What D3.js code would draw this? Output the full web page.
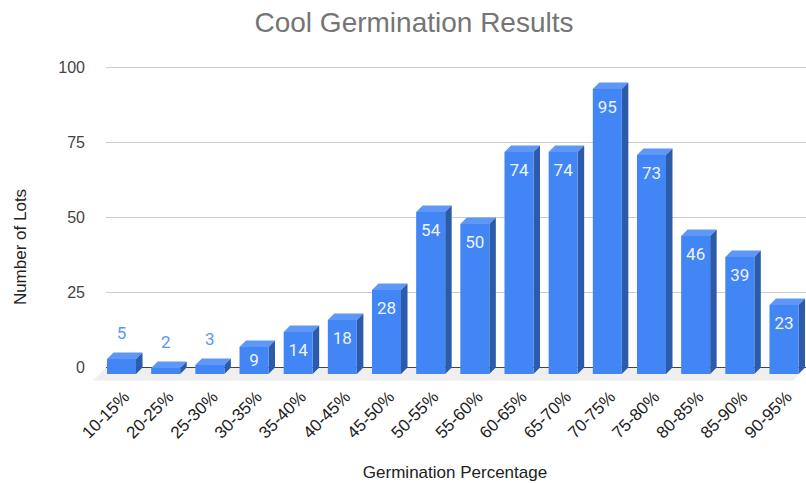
<!DOCTYPE html>
<html><head><meta charset="utf-8">
<script src="https://cdn.jsdelivr.net/npm/d3@7"></script>
<style>body{margin:0;background:#fff}svg{display:block}</style>
</head><body>
<script>
const categories = ["10-15%","20-25%","25-30%","30-35%","35-40%","40-45%","45-50%","50-55%","55-60%","60-65%","65-70%","70-75%","75-80%","80-85%","85-90%","90-95%"];
const values = [5,2,3,9,14,18,28,54,50,74,74,95,73,46,39,23];
const yTicks = [0,25,50,75,100];
const title = "Cool Germination Results";
const xTitle = "Germination Percentage";
const yTitle = "Number of Lots";

const W = 806, H = 483;
const dx = 6.5, dy = -6.5;
const svg = d3.select("body").append("svg").attr("width", W).attr("height", H);
const x = d3.scaleBand().domain(categories).range([99.5, 806]).paddingInner(0.343).paddingOuter(0.17);
const y = d3.scaleLinear().domain([0, 100]).range([374, 74]);
const font = "'Liberation Sans', Arial, sans-serif";

// floor
svg.append("path")
  .attr("d", `M${x.range()[0]+dx},${y(0)+dy} L${W},${y(0)+dy} L${W-2*dx},${y(0)-dy} L${x.range()[0]-dx},${y(0)-dy} Z`)
  .attr("fill", "#efefef");

// gridlines on back plane
svg.append("g").selectAll("line").data(yTicks).join("line")
  .attr("x1", x.range()[0]+dx).attr("x2", W)
  .attr("y1", d => y(d)+dy).attr("y2", d => y(d)+dy)
  .attr("stroke", d => d === 0 ? "#444" : "#cccccc").attr("stroke-width", 1);

// y tick labels
svg.append("g").selectAll("text").data(yTicks).join("text")
  .attr("x", 85).attr("y", d => y(d)+dy).attr("dy", "0.35em")
  .attr("text-anchor", "end").attr("font-family", font).attr("font-size", 16).attr("fill", "#444")
  .text(d => d);

// bars
const bw = x.bandwidth();
const g = svg.append("g").selectAll("g").data(values).join("g");
g.append("path").attr("fill", "#5e97f6")
  .attr("d", (d,i) => { const x0 = x(categories[i]), t = y(d);
    return `M${x0},${t} L${x0+dx},${t+dy} L${x0+bw+dx},${t+dy} L${x0+bw},${t} Z`; });
g.append("path").attr("fill", "#2c5baa")
  .attr("d", (d,i) => { const x0 = x(categories[i]) + bw, t = y(d), b = y(0);
    return `M${x0},${t} L${x0+dx},${t+dy} L${x0+dx},${b+dy} L${x0},${b} Z`; });
g.append("rect").attr("fill", "#4285f4")
  .attr("x", (d,i) => x(categories[i])).attr("width", bw)
  .attr("y", d => y(d)).attr("height", d => y(0) - y(d));

// value labels
g.append("text")
  .attr("x", (d,i) => x(categories[i]) + bw/2)
  .attr("y", d => { const h = y(0) - y(d); return h < 20 ? y(d) + dy - 19 : Math.min(y(d) + 18, y(d) + h/2); })
  .attr("dy", "0.35em").attr("text-anchor", "middle")
  .attr("font-family", "Roboto, sans-serif").attr("font-size", 17)
  .attr("fill", d => (y(0) - y(d)) < 20 ? "#5b95f5" : "#eef3fd")
  .text(d => d);

// x tick labels
svg.append("g").selectAll("text").data(categories).join("text")
  .attr("transform", d => `translate(${x(d) + bw/2 + 9},${398}) rotate(-45)`)
  .attr("text-anchor", "end")
  .attr("font-family", font).attr("font-size", 17).attr("fill", "#222")
  .text(d => d);

// titles
svg.append("text").attr("x", 414).attr("y", 32).attr("text-anchor", "middle")
  .attr("font-family", font).attr("font-size", 28).attr("fill", "#757575").text(title);
svg.append("text").attr("x", 455).attr("y", 478).attr("text-anchor", "middle")
  .attr("font-family", font).attr("font-size", 17).attr("fill", "#222").text(xTitle);
svg.append("text").attr("transform", "translate(26,247) rotate(-90)").attr("text-anchor", "middle")
  .attr("font-family", font).attr("font-size", 17).attr("fill", "#222").text(yTitle);
</script>
</body></html>
